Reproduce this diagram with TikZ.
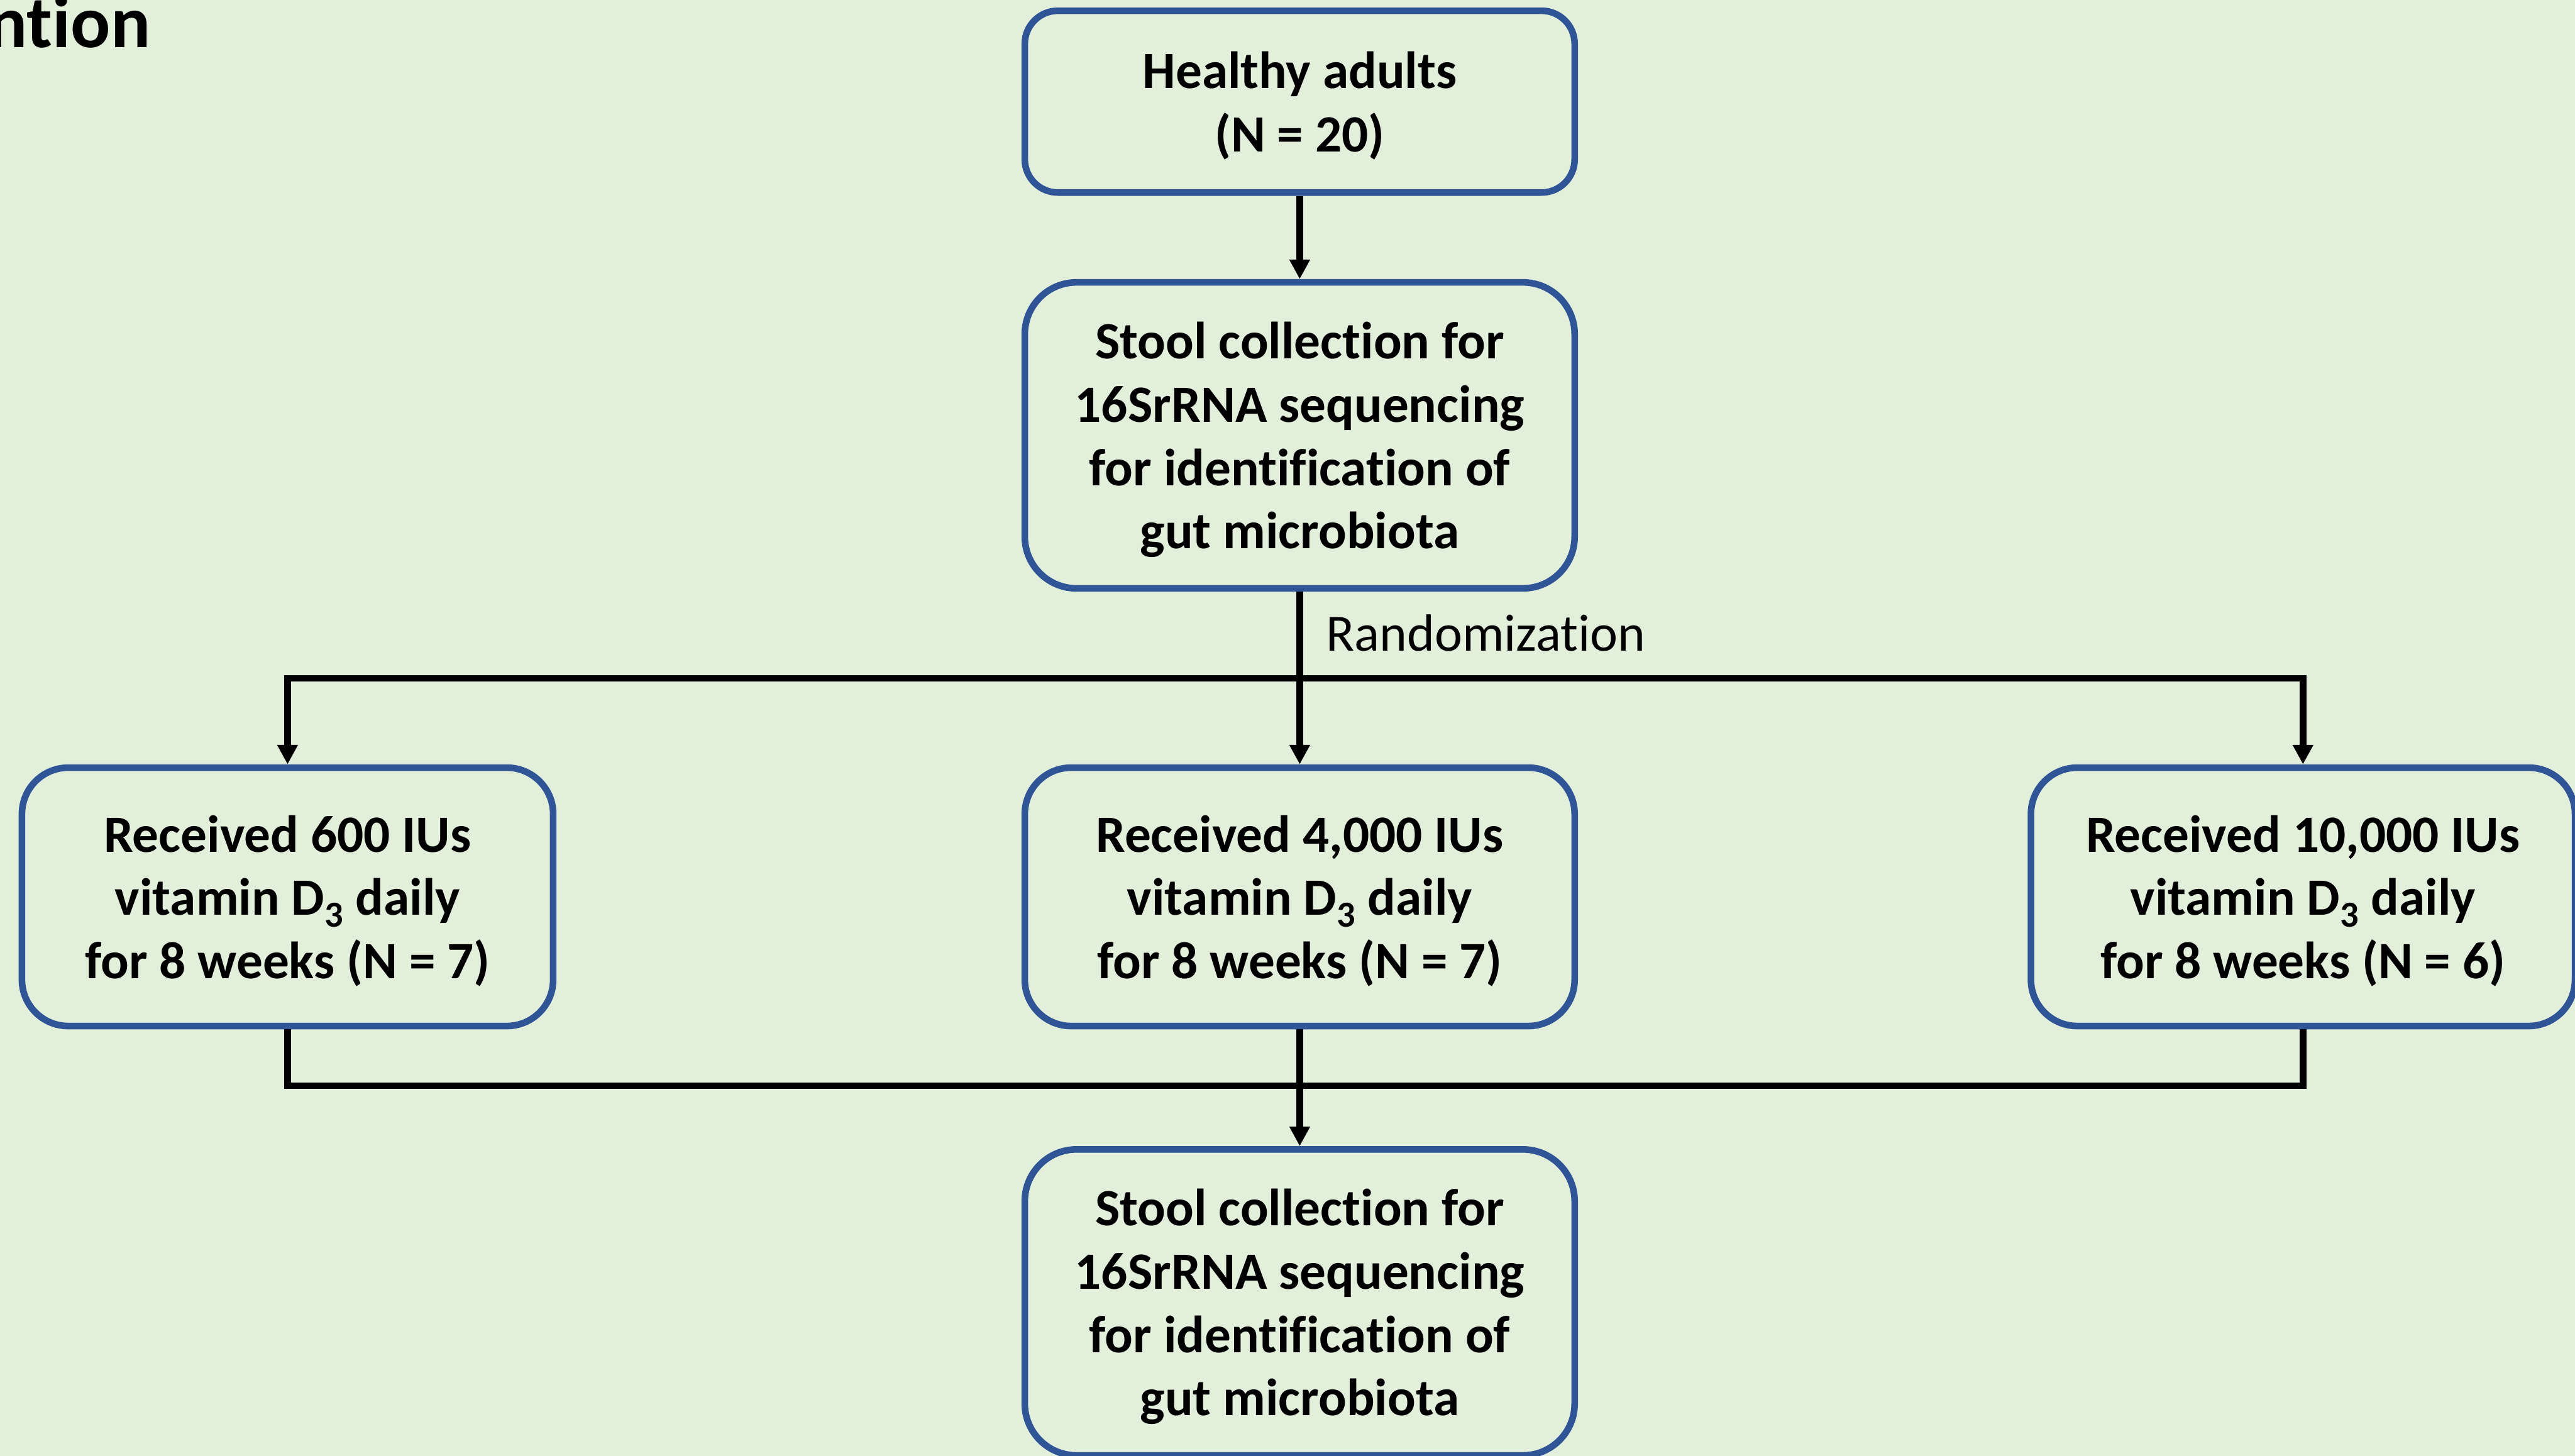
\documentclass[tikz,border=0pt]{standalone}
\usepackage{fontspec}
\setmainfont{Carlito}[Ligatures=NoCommon]
\usetikzlibrary{arrows.meta}
\definecolor{bgGreen}{HTML}{E2EFDA}
\definecolor{boxBlue}{HTML}{2F5597}

\begin{document}
\begin{tikzpicture}[->,>={Triangle[length=0.47cm,width=0.47cm]},line width=0.16cm,
        box/.style={draw=boxBlue,minimum width=13.28cm,inner sep=0pt,align=center,
          text depth=0pt,font=\fontsize{36}{43.5}\selectfont\bfseries},
        arm/.style={box,minimum height=6.24cm,rounded corners=1.12cm}]

  \fill[bgGreen] (0,0) rectangle (62.19,35.16);
  \useasboundingbox (0,0) rectangle (62.19,35.16);

  \node[anchor=base west,inner sep=0pt,font=\fontsize{51}{61}\selectfont\bfseries]
    (title) at (-0.38,34.01) {ntion};

  \node[box,minimum height=4.39cm,rounded corners=0.8cm] (adults) at (31.39,32.705)
    {Healthy adults\\(N = 20)};
  \node[box,minimum height=7.39cm,rounded corners=1.25cm] (stool_1) at (31.39,24.645)
    {Stool collection for\\16SrRNA sequencing\\for identification of\\gut microbiota};

  \node[arm,minimum width=12.83cm] (low) at (6.945,13.50)
    {Received 600 IUs\\vitamin D\textsubscript{3} daily\\for 8 weeks (N = 7)};
  \node[arm] (mid) at (31.39,13.50)
    {Received 4,000 IUs\\vitamin D\textsubscript{3} daily\\for 8 weeks (N = 7)};
  \node[arm,minimum width=13.14cm] (high) at (55.62,13.50)
    {Received 10,000 IUs\\vitamin D\textsubscript{3} daily\\for 8 weeks (N = 6)};

  \node[box,minimum height=7.39cm,rounded corners=1.25cm] (stool_2) at (31.39,3.705)
    {Stool collection for\\16SrRNA sequencing\\for identification of\\gut microbiota};

  \node[anchor=base west,inner sep=0pt,font=\fontsize{36}{43.5}\selectfont]
    (rand) at (31.95,19.43) {Randomization};

  \coordinate (split) at (31.39,18.78);
  \coordinate (merge) at (31.39,8.94);

  \path (adults) edge (stool_1)
        (stool_1) edge (mid)
        (mid) edge (stool_2);

  \draw (split) -| (low.north);
  \draw (split) -| (high.north);
  \draw[-] (low.south) |- (merge) -| (high.south);

\end{tikzpicture}
\end{document}
